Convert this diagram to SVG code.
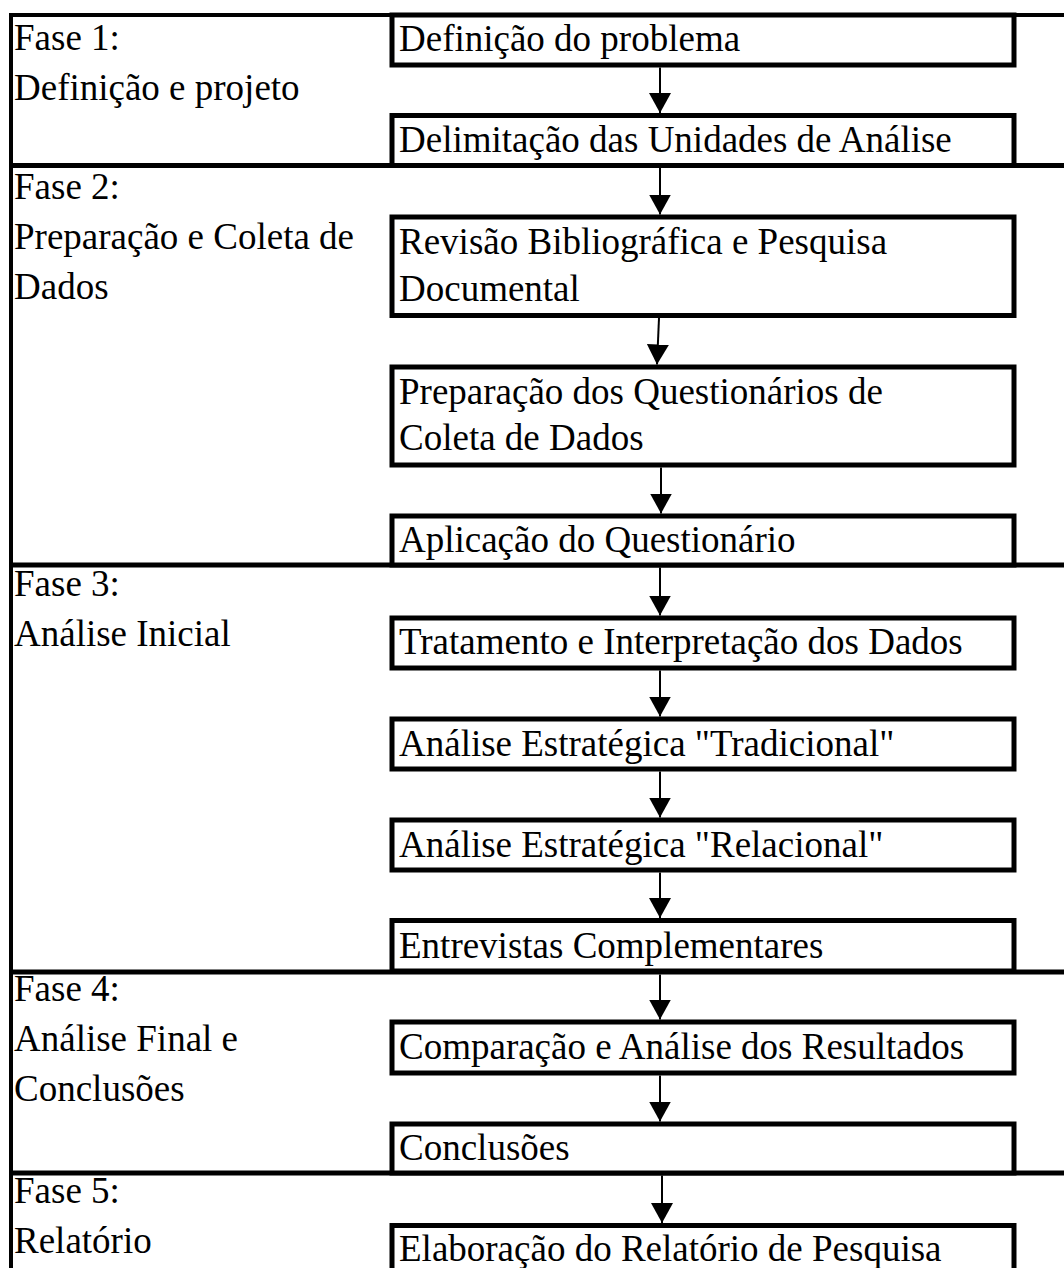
<svg xmlns="http://www.w3.org/2000/svg" width="1064" height="1268" viewBox="0 0 1064 1268">
<style>
text { font-family: "Liberation Serif", "Times New Roman", serif; font-size: 37px; fill: #000; }
.box { fill: #fff; stroke: #000; stroke-width: 5; }
.frame { stroke: #000; fill: none; }
.arrow { stroke: #000; stroke-width: 2; fill: none; marker-end: url(#ah); }
</style>
<defs>
<marker id="ah" markerUnits="userSpaceOnUse" viewBox="0 0 20 22" refX="20" refY="11" markerWidth="20" markerHeight="22" orient="auto">
<path d="M0,0 L20,11 L0,22 z" fill="#000"/>
</marker>
</defs>
<rect x="0" y="0" width="1064" height="1268" fill="#fff"/>

<g id="frame">
<line class="frame" x1="9" y1="15" x2="1064" y2="15" stroke-width="4"/>
<line class="frame" x1="11" y1="13" x2="11" y2="1268" stroke-width="4"/>
<line class="frame" x1="9" y1="165.5" x2="1064" y2="165.5" stroke-width="5"/>
<line class="frame" x1="9" y1="565" x2="1064" y2="565" stroke-width="5"/>
<line class="frame" x1="9" y1="972" x2="1064" y2="972" stroke-width="5"/>
<line class="frame" x1="9" y1="1173" x2="1064" y2="1173" stroke-width="5"/>
</g>

<g id="phase1"><text x="14" y="50">Fase 1:</text><text x="14" y="100">Definição e projeto</text></g>
<g id="phase2"><text x="14" y="199">Fase 2:</text><text x="14" y="249">Preparação e Coleta de</text><text x="14" y="299">Dados</text></g>
<g id="phase3"><text x="14" y="596">Fase 3:</text><text x="14" y="646">Análise Inicial</text></g>
<g id="phase4"><text x="14" y="1001">Fase 4:</text><text x="14" y="1051">Análise Final e</text><text x="14" y="1101">Conclusões</text></g>
<g id="phase5"><text x="14" y="1203">Fase 5:</text><text x="14" y="1253">Relatório</text></g>

<g id="n1"><rect class="box" x="392" y="15" width="622" height="50"/><text x="399" y="51">Definição do problema</text></g>
<g id="n2"><rect class="box" x="392" y="115.5" width="622" height="50"/><text x="399" y="152">Delimitação das Unidades de Análise</text></g>
<g id="n3"><rect class="box" x="392" y="217" width="622" height="98.5"/><text x="399" y="254">Revisão Bibliográfica e Pesquisa</text><text x="399" y="301">Documental</text></g>
<g id="n4"><rect class="box" x="392" y="367" width="622" height="98"/><text x="399" y="404">Preparação dos Questionários de</text><text x="399" y="450">Coleta de Dados</text></g>
<g id="n5"><rect class="box" x="392" y="516" width="622" height="49"/><text x="399" y="552">Aplicação do Questionário</text></g>
<g id="n6"><rect class="box" x="392" y="618" width="622" height="50"/><text x="399" y="654">Tratamento e Interpretação dos Dados</text></g>
<g id="n7"><rect class="box" x="392" y="719" width="622" height="50"/><text x="399" y="756">Análise Estratégica &quot;Tradicional&quot;</text></g>
<g id="n8"><rect class="box" x="392" y="820" width="622" height="50"/><text x="399" y="857">Análise Estratégica &quot;Relacional&quot;</text></g>
<g id="n9"><rect class="box" x="392" y="920.5" width="622" height="50.5"/><text x="399" y="958">Entrevistas Complementares</text></g>
<g id="n10"><rect class="box" x="392" y="1022" width="622" height="51"/><text x="399" y="1059">Comparação e Análise dos Resultados</text></g>
<g id="n11"><rect class="box" x="392" y="1124" width="622" height="49"/><text x="399" y="1160">Conclusões</text></g>
<g id="n12"><rect class="box" x="392" y="1225.5" width="622" height="70"/><text x="399" y="1261">Elaboração do Relatório de Pesquisa</text></g>

<g id="connectors">
<line class="arrow" x1="660" y1="67.5" x2="660" y2="113"/>
<line class="arrow" x1="660" y1="168" x2="660" y2="214.5"/>
<line class="arrow" x1="659" y1="318" x2="657" y2="364.5"/>
<line class="arrow" x1="661" y1="467.5" x2="661" y2="513.5"/>
<line class="arrow" x1="660" y1="567.5" x2="660" y2="615.5"/>
<line class="arrow" x1="660" y1="670.5" x2="660" y2="716.5"/>
<line class="arrow" x1="660" y1="771.5" x2="660" y2="817.5"/>
<line class="arrow" x1="660" y1="872.5" x2="660" y2="918"/>
<line class="arrow" x1="660" y1="974.5" x2="660" y2="1019.5"/>
<line class="arrow" x1="660" y1="1075.5" x2="660" y2="1121.5"/>
<line class="arrow" x1="662" y1="1175.5" x2="662" y2="1223"/>
</g>
</svg>
